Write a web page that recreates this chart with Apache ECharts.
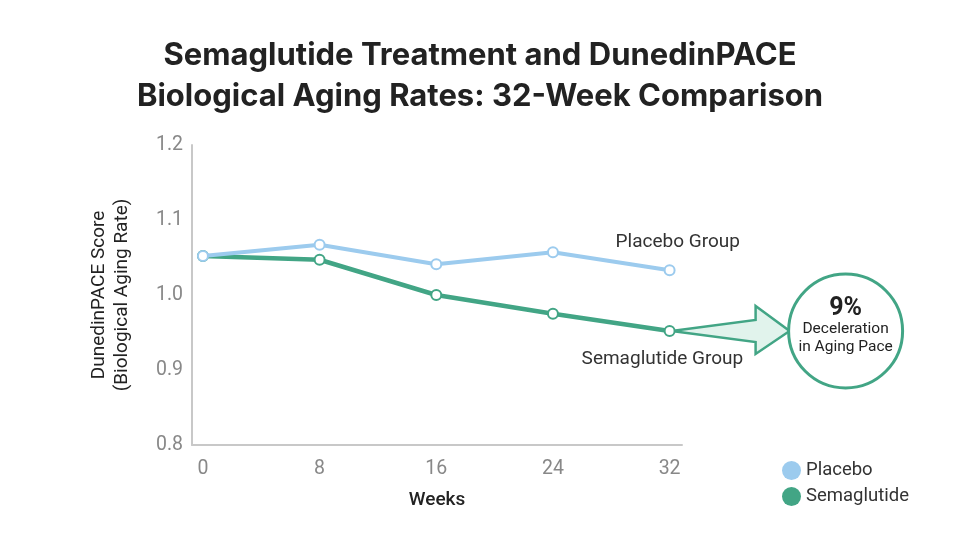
<!DOCTYPE html>
<html>
<head>
<meta charset="utf-8">
<script src="https://cdn.jsdelivr.net/npm/echarts@6/dist/echarts.min.js"></script>
<style>
  html, body { margin: 0; padding: 0; background: #fff; }
  #chart { width: 960px; height: 540px; }
</style>
</head>
<body>
<div id="chart"></div>
<script>
var weeks = [0, 8, 16, 24, 32];
var placebo = [1.052, 1.067, 1.041, 1.057, 1.033];
var semaglutide = [1.052, 1.047, 1.000, 0.975, 0.952];
var yTicks = [0.8, 0.9, 1.0, 1.1, 1.2];

var chart = echarts.init(document.getElementById('chart'));

function pairs(vals) {
  return weeks.map(function (w, i) { return [w, vals[i]]; });
}

var option = {
  backgroundColor: '#fff',
  textStyle: { fontFamily: 'Roboto, sans-serif' },
  title: {
    text: 'Semaglutide Treatment and DunedinPACE\nBiological Aging Rates: 32-Week Comparison',
    left: 'center',
    top: 30,
    textStyle: { fontSize: 31, fontWeight: 'bold', color: '#222', lineHeight: 41, fontFamily: 'Inter, Roboto, sans-serif' }
  },
  legend: {
    orient: 'vertical',
    left: 777,
    top: 456,
    itemWidth: 19,
    itemHeight: 19,
    itemGap: 7,
    icon: 'circle',
    textStyle: { fontSize: 18.5, color: '#333' },
    data: [
      { name: 'Placebo', itemStyle: { color: '#9ccbee', borderWidth: 0 } },
      { name: 'Semaglutide', itemStyle: { color: '#42a585', borderWidth: 0 } }
    ]
  },
  grid: { left: 192, right: 278, top: 145, bottom: 95 },
  xAxis: {
    type: 'value',
    min: -0.75,
    max: 32.85,
    name: 'Weeks',
    nameLocation: 'middle',
    nameGap: 46,
    nameTextStyle: { fontSize: 19, color: '#222', fontWeight: 500 },
    axisLine: { show: true, onZero: false, lineStyle: { color: '#c8c8c8', width: 2 } },
    axisTick: { show: false },
    splitLine: { show: false },
    axisLabel: { customValues: weeks, fontSize: 19.5, color: '#888', margin: 14 }
  },
  yAxis: {
    type: 'value',
    min: 0.8,
    max: 1.2,
    interval: 0.1,
    name: 'DunedinPACE Score\n(Biological Aging Rate)',
    nameLocation: 'middle',
    nameGap: 58,
    nameTextStyle: { fontSize: 19, color: '#222', lineHeight: 23 },
    axisLine: { show: true, onZero: false, lineStyle: { color: '#c8c8c8', width: 2 } },
    axisTick: { show: false },
    splitLine: { show: false },
    axisLabel: {
      fontSize: 19.5, color: '#888', margin: 9,
      formatter: function (v) { return v.toFixed(1); }
    }
  },
  series: [
    {
      name: 'Semaglutide',
      type: 'line',
      data: pairs(semaglutide),
      symbol: 'emptyCircle',
      symbolSize: 10,
      lineStyle: { color: '#42a585', width: 4.5 },
      itemStyle: { color: '#42a585', borderWidth: 3, borderColor: '#42a585' },
      z: 2
    },
    {
      name: 'Placebo',
      type: 'line',
      data: pairs(placebo),
      symbol: 'emptyCircle',
      symbolSize: 10,
      lineStyle: { color: '#9ccbee', width: 4 },
      itemStyle: { color: '#9ccbee', borderWidth: 3, borderColor: '#9ccbee' },
      z: 3
    }
  ]
};
chart.setOption(option);

// annotations placed from the series' last points
var pEnd = chart.convertToPixel({ gridIndex: 0 }, [32, placebo[4]]);
var sEnd = chart.convertToPixel({ gridIndex: 0 }, [32, semaglutide[4]]);
var cx = sEnd[0] + 176, cy = sEnd[1];
var r = 57;
var headBase = cx - r - 33, tip = cx - r + 1;

chart.setOption({
  graphic: [
    {
      type: 'text', left: pEnd[0] - 54, top: pEnd[1] - 38,
      style: { text: 'Placebo Group', fontSize: 19, fill: '#333', fontFamily: 'Roboto, sans-serif' }
    },
    {
      type: 'text', left: sEnd[0] - 88, top: sEnd[1] + 19,
      style: { text: 'Semaglutide Group', fontSize: 19, fill: '#333', fontFamily: 'Roboto, sans-serif' }
    },
    {
      type: 'polygon', z: 1,
      shape: {
        points: [
          [sEnd[0] + 2, sEnd[1]],
          [headBase, sEnd[1] - 11],
          [headBase, sEnd[1] - 25],
          [tip, sEnd[1]],
          [headBase, sEnd[1] + 23],
          [headBase, sEnd[1] + 11]
        ]
      },
      style: { fill: '#e1f3ec', stroke: '#42a585', lineWidth: 2.5, lineJoin: 'miter' }
    },
    {
      type: 'circle', z: 2,
      shape: { cx: cx, cy: cy, r: r },
      style: { fill: '#fff', stroke: '#42a585', lineWidth: 3 }
    },
    {
      type: 'text', z: 3, x: cx, y: cy - 22,
      style: { text: '9%', fontSize: 25, fontWeight: 'bold', fill: '#222', align: 'center', verticalAlign: 'middle', fontFamily: 'Roboto, sans-serif' }
    },
    {
      type: 'text', z: 3, x: cx, y: cy - 2,
      style: { text: 'Deceleration', fontSize: 15.5, fill: '#222', align: 'center', verticalAlign: 'middle', fontFamily: 'Roboto, sans-serif' }
    },
    {
      type: 'text', z: 3, x: cx, y: cy + 16,
      style: { text: 'in Aging Pace', fontSize: 15.5, fill: '#222', align: 'center', verticalAlign: 'middle', fontFamily: 'Roboto, sans-serif' }
    }
  ]
});
</script>
</body>
</html>
